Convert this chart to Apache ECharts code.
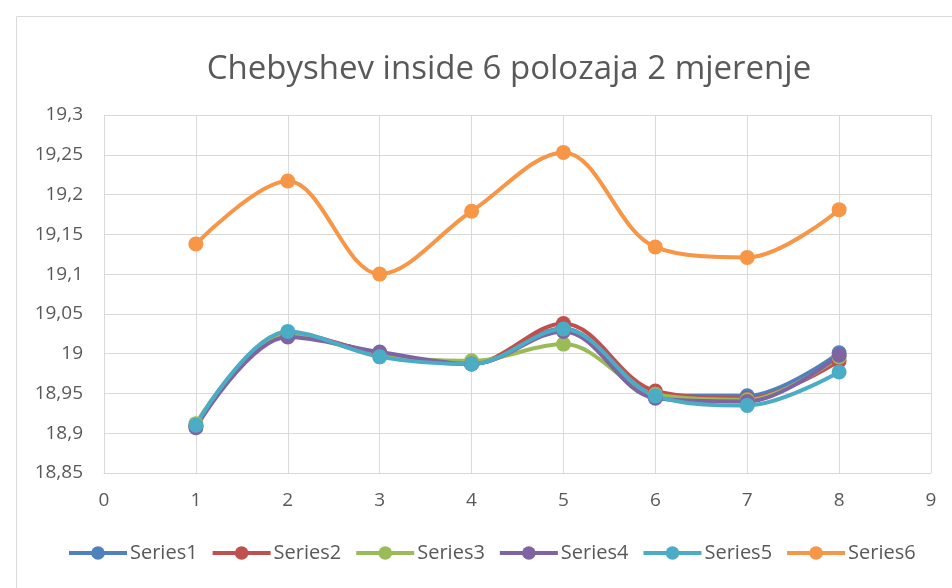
<!DOCTYPE html>
<html>
<head>
<meta charset="utf-8">
<script src="https://cdn.jsdelivr.net/npm/echarts@6/dist/echarts.min.js"></script>
<style>
  html, body { margin: 0; padding: 0; background: #fff; }
  #chart { width: 952px; height: 588px; }
</style>
</head>
<body>
<div id="chart"></div>
<script>
// Measurement positions (x) and the six measured series
const positions = [1, 2, 3, 4, 5, 6, 7, 8];
const series1 = [18.909, 19.025, 19.000, 18.987, 19.032, 18.947, 18.947, 19.001];
const series2 = [18.909, 19.026, 19.000, 18.988, 19.038, 18.953, 18.944, 18.991];
const series3 = [18.912, 19.025, 18.998, 18.991, 19.012, 18.949, 18.942, 18.996];
const series4 = [18.907, 19.021, 19.002, 18.987, 19.028, 18.944, 18.940, 18.998];
const series5 = [18.910, 19.028, 18.996, 18.987, 19.031, 18.947, 18.935, 18.977];
const series6 = [19.138, 19.217, 19.100, 19.179, 19.253, 19.134, 19.121, 19.181];

const seriesNames = ['Series1', 'Series2', 'Series3', 'Series4', 'Series5', 'Series6'];
const seriesValues = [series1, series2, series3, series4, series5, series6];
const palette = ['#4F81BD', '#C0504D', '#9BBB59', '#8064A2', '#4BACC6', '#F79646'];

const titleText = 'Chebyshev inside 6 polozaja 2 mjerenje';
const fontFamily = '"Open Sans", "Liberation Sans", sans-serif';
const textColor = '#595959';

// Decimal comma for tick labels
function commaLabel(v) {
  return String(+v.toFixed(2)).replace('.', ',');
}

const chart = echarts.init(document.getElementById('chart'), null, { renderer: 'canvas' });

chart.setOption({
  animation: false,
  color: palette,
  textStyle: { fontFamily: fontFamily },
  title: {
    text: titleText,
    left: 504,
    top: 48,
    textAlign: 'center',
    textStyle: { fontSize: 33, fontWeight: 'normal', color: textColor, fontFamily: fontFamily }
  },
  graphic: [{
    type: 'rect',
    shape: { x: 16.5, y: 16.5, width: 960, height: 600 },
    style: { fill: 'none', stroke: '#d9d9d9', lineWidth: 1 },
    silent: true,
    z: -1
  }],
  legend: {
    bottom: 20,
    left: 62,
    itemWidth: 58,
    itemHeight: 17,
    itemGap: 13,
    lineStyle: { width: 4 },
    textStyle: { fontSize: 20, color: textColor, fontFamily: fontFamily, padding: [0, 0, 0, -2] },
    data: seriesNames
  },
  grid: { left: 104, right: 21, top: 115, bottom: 115, containLabel: false },
  xAxis: {
    type: 'value',
    min: 0,
    max: 9,
    interval: 1,
    axisLine: { show: true, lineStyle: { color: '#d9d9d9', width: 1 } },
    axisTick: { show: false },
    splitLine: { show: true, lineStyle: { color: '#d9d9d9', width: 1 } },
    axisLabel: { color: textColor, fontSize: 19, margin: 18, fontFamily: fontFamily }
  },
  yAxis: {
    type: 'value',
    min: 18.85,
    max: 19.3,
    interval: 0.05,
    axisLine: { show: true, lineStyle: { color: '#d9d9d9', width: 1 } },
    axisTick: { show: false },
    splitLine: { show: true, lineStyle: { color: '#d9d9d9', width: 1 } },
    axisLabel: { color: textColor, fontSize: 19, margin: 21, fontFamily: fontFamily, formatter: commaLabel }
  },
  series: seriesNames.map((name, i) => ({
    name: name,
    type: 'line',
    smooth: 0.35,
    symbol: 'circle',
    symbolSize: 15,
    lineStyle: { width: 4 },
    data: positions.map((x, j) => [x, seriesValues[i][j]])
  }))
});
</script>
</body>
</html>
